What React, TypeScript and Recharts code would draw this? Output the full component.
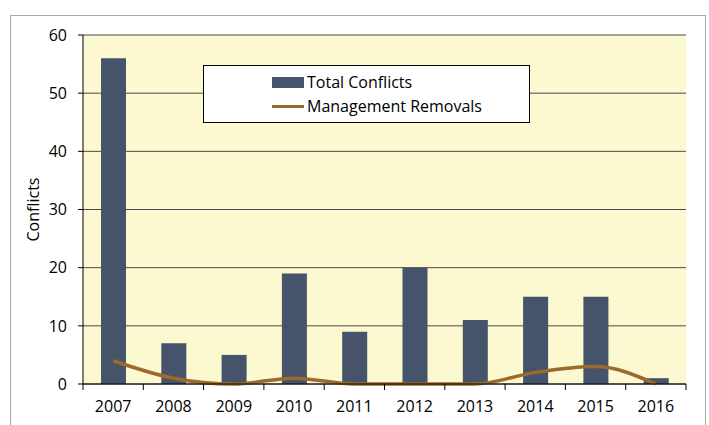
import { ComposedChart, Bar, Line, XAxis, YAxis, CartesianGrid, Legend } from "recharts";

// Years on the x axis
const years = ["2007", "2008", "2009", "2010", "2011", "2012", "2013", "2014", "2015", "2016"];
// Total conflicts per year
const totalConflicts = [56, 7, 5, 19, 9, 20, 11, 15, 15, 1];
// Management removals per year
const managementRemovals = [4, 1, 0, 1, 0, 0, 0, 2, 3, 0];
// Tick values
const yTicks = [0, 10, 20, 30, 40, 50, 60];

const data = years.map((year, i) => ({
  year,
  total: totalConflicts[i],
  removals: managementRemovals[i],
}));

const FONT = "'Open Sans', sans-serif";

// Year label with tick marks on the category edges (Excel style)
function YearTick(props: any) {
  const { x, y, payload, index } = props;
  const half = payload.offset || 0;
  const last = index === years.length - 1;
  return (
    <g>
      <line x1={x - half} x2={x - half} y1={y} y2={y + 6} stroke="#000" />
      {last && <line x1={x + half} x2={x + half} y1={y} y2={y + 6} stroke="#000" />}
      <text x={x} y={y + 28} textAnchor="middle" fill="#000" fontSize={16} fontFamily={FONT}>
        {payload.value}
      </text>
    </g>
  );
}

function LegendBox(props: any) {
  // bars first, then the line, like the original
  const items = [...(props.payload || [])].sort((a: any, b: any) =>
    a.type === "rect" ? -1 : b.type === "rect" ? 1 : 0
  );
  return (
    <div
      style={{
        background: "#fff",
        border: "1px solid #000",
        boxSizing: "border-box",
        width: 327,
        height: 58,
        paddingLeft: 68,
        paddingTop: 4,
        fontFamily: FONT,
        fontSize: 16,
        color: "#000",
        textAlign: "left",
      }}
    >
      {items.map((item: any) => (
        <div key={item.value} style={{ display: "flex", alignItems: "center", height: 24 }}>
          {item.type === "rect" ? (
            <div style={{ width: 32, height: 11, background: item.color, marginRight: 3 }} />
          ) : (
            <div style={{ width: 32, height: 3, background: item.color, marginRight: 3 }} />
          )}
          <span>{item.value}</span>
        </div>
      ))}
    </div>
  );
}

export default function App() {
  return (
    <div style={{ position: "absolute", left: 0, top: 0, width: 709, height: 425, background: "#fff" }}>
      {/* outer frame */}
      <div
        style={{
          position: "absolute",
          left: 10,
          top: 15,
          width: 696,
          height: 410,
          border: "1px solid #a8a8a8",
          borderBottom: "none",
          boxSizing: "border-box",
        }}
      />
      <div style={{ position: "absolute", left: 0, top: 0 }}>
        <ComposedChart
          width={709}
          height={425}
          data={data}
          margin={{ top: 35, right: 23, bottom: 11, left: 28 }}
        >
          <CartesianGrid fill="#fcf8cf" stroke="#4a4a4a" vertical={false} />
          <XAxis
            dataKey="year"
            axisLine={{ stroke: "#000" }}
            tickLine={false}
            tickSize={0}
            tickMargin={0}
            height={30}
            tick={<YearTick />}
            interval={0}
          />
          <YAxis
            domain={[0, 60]}
            ticks={yTicks}
            interval={0}
            axisLine={{ stroke: "#000" }}
            tickLine={{ stroke: "#000" }}
            tickSize={5}
            tickMargin={11}
            width={55}
            tick={{ fill: "#000", fontSize: 16, fontFamily: FONT }}
            label={{
              value: "Conflicts",
              angle: -90,
              position: "insideLeft",
              offset: 5,
              style: { fill: "#000", fontSize: 16, fontFamily: FONT, textAnchor: "middle" },
            }}
          />
          <YAxis
            yAxisId="frame"
            orientation="right"
            domain={[0, 60]}
            tick={false}
            tickLine={false}
            axisLine={{ stroke: "#8c8c8c" }}
            width={0}
          />
          <Bar
            dataKey="total"
            name="Total Conflicts"
            fill="#45536b"
            barSize={25}
            legendType="rect"
            isAnimationActive={false}
          />
          <Line
            dataKey="removals"
            name="Management Removals"
            type="monotone"
            stroke="#9c6a2c"
            strokeWidth={3.5}
            dot={false}
            activeDot={false}
            legendType="line"
            isAnimationActive={false}
          />
          <Legend
            content={<LegendBox />}
            layout="horizontal"
            verticalAlign="middle"
            align="center"
            wrapperStyle={{ left: 203, top: 65, width: 327, height: 58 }}
          />
        </ComposedChart>
      </div>
    </div>
  );
}
